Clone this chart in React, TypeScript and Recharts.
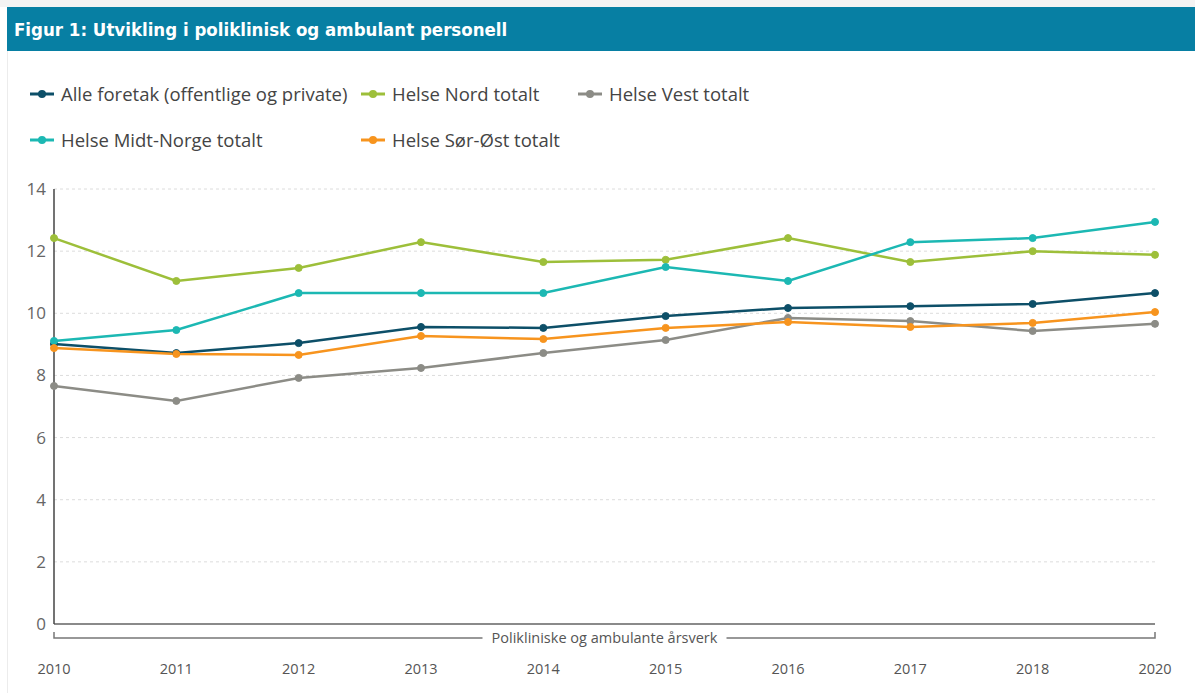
import { LineChart, Line, XAxis, YAxis, CartesianGrid } from "recharts"

const years = ["2010", "2011", "2012", "2013", "2014", "2015", "2016", "2017", "2018", "2020"]
const alleForetak = [9.01, 8.72, 9.04, 9.56, 9.53, 9.91, 10.17, 10.23, 10.3, 10.65]
const helseNord = [12.42, 11.04, 11.46, 12.29, 11.65, 11.72, 12.42, 11.65, 12.0, 11.88]
const helseVest = [7.66, 7.18, 7.92, 8.24, 8.72, 9.14, 9.85, 9.75, 9.43, 9.66]
const helseMidt = [9.11, 9.46, 10.65, 10.65, 10.65, 11.49, 11.04, 12.29, 12.42, 12.94]
const helseSorOst = [8.88, 8.69, 8.66, 9.27, 9.17, 9.53, 9.72, 9.56, 9.69, 10.04]
const yTicks = [0, 2, 4, 6, 8, 10, 12, 14]

const series = [
  { key: "alle", name: "Alle foretak (offentlige og private)", color: "#0d4f68", values: alleForetak },
  { key: "nord", name: "Helse Nord totalt", color: "#9dbf3a", values: helseNord },
  { key: "vest", name: "Helse Vest totalt", color: "#8c8c86", values: helseVest },
  { key: "midt", name: "Helse Midt-Norge totalt", color: "#1cb8b3", values: helseMidt },
  { key: "sorost", name: "Helse Sør-Øst totalt", color: "#f7941e", values: helseSorOst },
]

const data = years.map((year, i) => {
  const row: Record<string, string | number> = { year }
  series.forEach((s) => (row[s.key] = s.values[i]))
  return row
})

const font = "'Open Sans', 'DejaVu Sans', sans-serif"

function LegendItem({ name, color, left, top }: { name: string; color: string; left: number; top: number }) {
  return (
    <div style={{ position: "absolute", left, top, display: "flex", alignItems: "center", whiteSpace: "nowrap" }}>
      <svg width={26} height={10} style={{ marginRight: 6 }}>
        <line x1={1} y1={5} x2={25} y2={5} stroke={color} strokeWidth={3} />
        <circle cx={13} cy={5} r={4} fill={color} />
      </svg>
      <span style={{ fontFamily: font, fontSize: 18.5, color: "#444" }}>{name}</span>
    </div>
  )
}

function XTick({ x, y, payload }: any) {
  return (
    <text x={x} y={y + 42} textAnchor="middle" fontFamily={font} fontSize={14.5} fill="#555">
      {payload.value}
    </text>
  )
}

function Bracket({ viewBox }: any) {
  const { x, y, width } = viewBox
  const by = y + 14
  const label = "Polikliniske og ambulante årsverk"
  const mid = x + width / 2
  const half = 122
  return (
    <g>
      <path d={`M${x},${by - 6} L${x},${by} L${mid - half},${by}`} fill="none" stroke="#777" strokeWidth={1.5} />
      <path d={`M${mid + half},${by} L${x + width},${by} L${x + width},${by - 6}`} fill="none" stroke="#777" strokeWidth={1.5} />
      <text x={mid} y={by + 5} textAnchor="middle" fontFamily={font} fontSize={14.5} fill="#555">
        {label}
      </text>
    </g>
  )
}

export default function App() {
  return (
    <div style={{ position: "absolute", left: 0, top: 0, width: 1195, height: 693, background: "#fff", overflow: "hidden" }}>
      <div style={{ position: "absolute", left: 0, top: 0, width: 1195, height: 7, background: "#f3f3f3" }} />
      <div style={{ position: "absolute", left: 7, top: 50, width: 1, height: 643, background: "#ececec" }} />
      <div
        style={{
          position: "absolute",
          left: 7,
          top: 7,
          width: 1188,
          height: 44,
          background: "#077fa3",
          color: "#fff",
          display: "flex",
          alignItems: "center",
        }}
      >
        <span
          style={{
            marginLeft: 7,
            fontFamily: "'DejaVu Sans Condensed', 'DejaVu Sans', sans-serif",
            fontStretch: "condensed",
            fontSize: 18.5,
            fontWeight: "bold",
          }}
        >
          Figur 1: Utvikling i poliklinisk og ambulant personell
        </span>
      </div>
      <LegendItem name={series[0].name} color={series[0].color} left={29} top={81} />
      <LegendItem name={series[1].name} color={series[1].color} left={360} top={81} />
      <LegendItem name={series[2].name} color={series[2].color} left={577} top={81} />
      <LegendItem name={series[3].name} color={series[3].color} left={29} top={127} />
      <LegendItem name={series[4].name} color={series[4].color} left={360} top={127} />
      <div style={{ position: "absolute", left: 0, top: 0 }}>
        <LineChart width={1195} height={693} data={data} margin={{ top: 189, right: 40, bottom: 9, left: 0 }}>
          <CartesianGrid vertical={false} stroke="#dcdcdc" strokeDasharray="3 3" />
          <XAxis
            dataKey="year"
            height={60}
            padding={{ left: 0, right: 0 }}
            axisLine={{ stroke: "#8a8a8a", strokeWidth: 2 }}
            tickLine={false}
            tick={<XTick />}
            interval={0}
            label={<Bracket />}
          />
          <YAxis
            width={54}
            domain={[0, 14]}
            ticks={yTicks}
            axisLine={{ stroke: "#444", strokeWidth: 1.5 }}
            tickLine={false}
            tick={{ fontFamily: font, fontSize: 17, fill: "#666" }}
          />
          {series.map((s) => (
            <Line
              key={s.key}
              dataKey={s.key}
              name={s.name}
              stroke={s.color}
              strokeWidth={2.5}
              dot={{ r: 3.5, fill: s.color, stroke: s.color, strokeWidth: 1 }}
              isAnimationActive={false}
            />
          ))}
        </LineChart>
      </div>
    </div>
  )
}
